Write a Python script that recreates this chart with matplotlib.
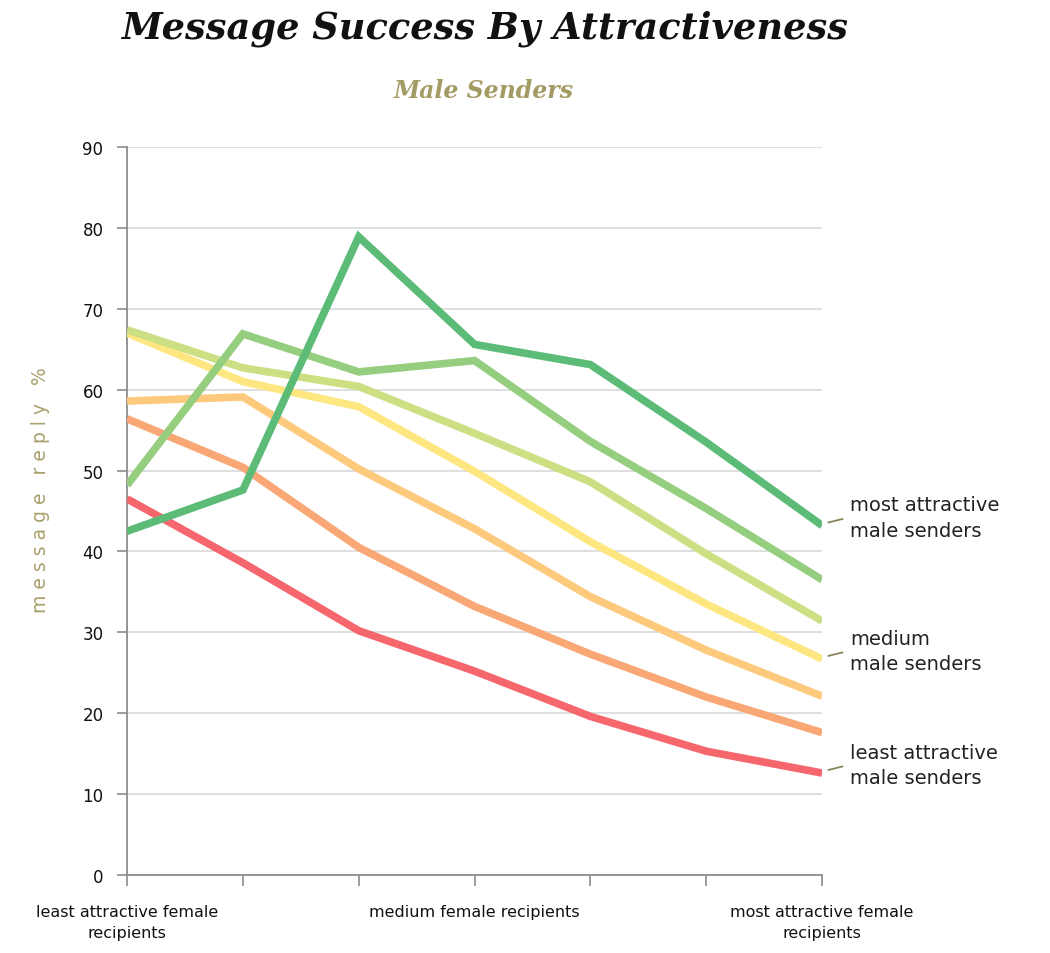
import matplotlib.pyplot as plt
import numpy as np

# recipient attractiveness buckets (x axis)
recipients = ['least attractive female\nrecipients', '', '', 'medium female recipients',
              '', '', 'most attractive female\nrecipients']

# reply % per sender attractiveness group, most attractive first
most_attr = [42.5, 47.6, 78.9, 65.6, 63.1, 53.5, 43.2]
high = [48.2, 66.9, 62.2, 63.6, 53.6, 45.3, 36.5]
upper_mid = [67.4, 62.7, 60.4, 54.6, 48.6, 39.7, 31.4]
medium = [67.0, 61.0, 57.9, 49.9, 41.2, 33.5, 26.7]
lower_mid = [58.6, 59.1, 50.2, 42.8, 34.4, 27.8, 22.1]
low = [56.4, 50.4, 40.5, 33.2, 27.3, 22.0, 17.6]
least_attr = [46.5, 38.6, 30.2, 25.2, 19.6, 15.3, 12.6]

series = [least_attr, low, lower_mid, medium, upper_mid, high, most_attr]
colors = ['#F5676D', '#F9A774', '#FDC97C', '#FEE781', '#CDDF83', '#96CE7F', '#5CBC77']

side_labels = ['most attractive\nmale senders', 'medium\nmale senders',
               'least attractive\nmale senders']
side_vals = [most_attr[-1], medium[-1], least_attr[-1]]

x = np.arange(len(recipients))

fig = plt.figure(figsize=(10.5, 9.54), dpi=100)
ax = fig.add_axes([0.121, 0.0818, 0.662, 0.763])

for y, c in zip(series, colors):
    ax.plot(x, y, color=c, lw=5.5, solid_joinstyle='miter', solid_capstyle='butt', zorder=3)

ax.set_xlim(0, 6)
ax.set_ylim(0, 90)
ax.set_yticks(np.arange(0, 91, 10))
ax.yaxis.grid(True, color='#D9D9D9', lw=1.2)
ax.set_axisbelow(True)
for s in ['top', 'right']:
    ax.spines[s].set_visible(False)
for s in ['left', 'bottom']:
    ax.spines[s].set_color('#8C8C8C')
    ax.spines[s].set_linewidth(1.3)
ax.tick_params(axis='y', length=7, width=1.2, color='#8C8C8C', labelsize=12, pad=10,
               labelcolor='#111111')
ax.tick_params(axis='x', length=8, width=1.2, color='#8C8C8C', labelsize=11.5, pad=13,
               labelcolor='#111111')
ax.set_xticks(x)
ax.set_xticklabels(recipients, linespacing=1.45)

ax.text(-0.75, 47.7, 'm e s s a g e   r e p l y   %', rotation=90, ha='center', va='center',
        fontsize=13.5, color='#A9A06C', clip_on=False)

for lab, v in zip(side_labels, side_vals):
    ax.annotate('', xy=(6.03, v + 0.3), xytext=(6.2, v + 0.9), annotation_clip=False,
                arrowprops=dict(arrowstyle='-', color='#8A845A', lw=1.3))
    ax.text(6.24, v + 1.0, lab, ha='left', va='center', fontsize=14, color='#222222',
            linespacing=1.45, clip_on=False)

fig.text(0.461, 0.970, 'Message Success By Attractiveness', ha='center', va='center',
         fontsize=26.5, fontweight='bold', style='italic', family='DejaVu Serif', color='#111111')
fig.text(0.461, 0.905, 'Male Senders', ha='center', va='center', fontsize=17,
         fontweight='bold', style='italic', family='DejaVu Serif', color='#A39B63')

fig.savefig('out.png', dpi=100, facecolor='white')
